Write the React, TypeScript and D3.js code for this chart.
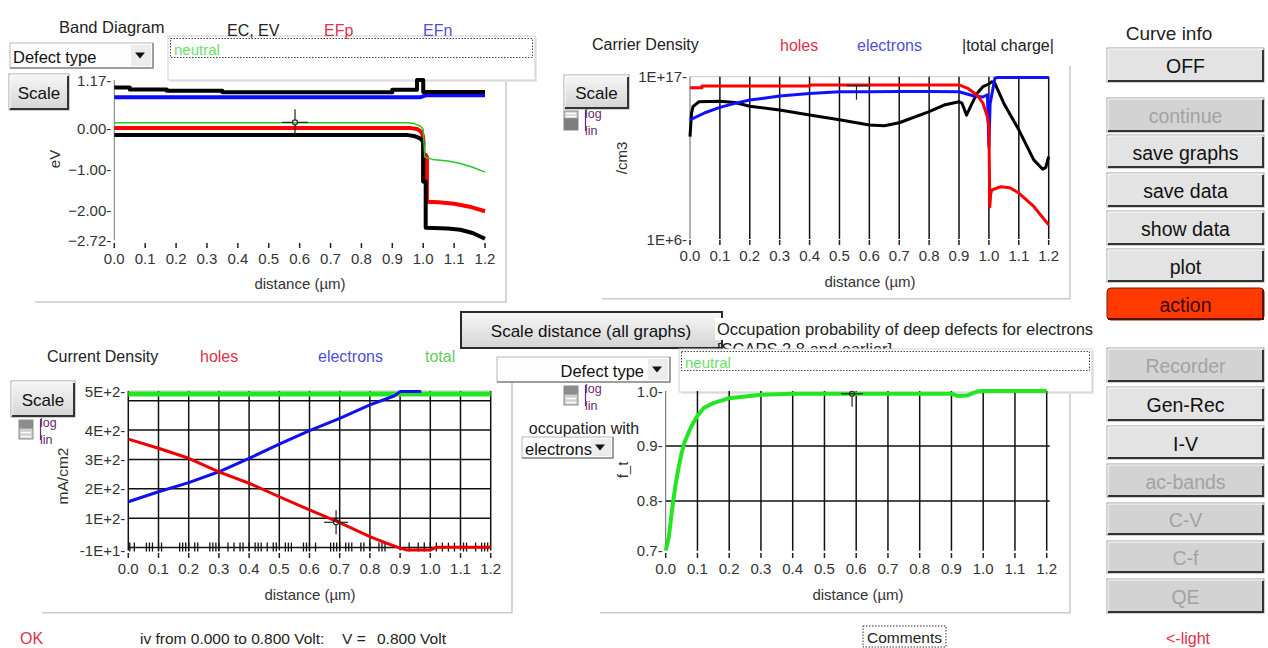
import React from 'react';
import * as d3 from 'd3';

type Pt = [number, number];

const FONT = 'Liberation Sans, Arial, sans-serif';

const distTicks = [0, 0.1, 0.2, 0.3, 0.4, 0.5, 0.6, 0.7, 0.8, 0.9, 1.0, 1.1, 1.2];

// band diagram (eV)
const bandTicks = [1.17, 0, -1, -2, -2.72];
const ecBand: Pt[] = [[0, 0.99], [0.05, 0.99], [0.05, 0.94], [0.17, 0.94], [0.17, 0.91], [0.35, 0.91], [0.35, 0.87], [0.9, 0.87], [0.9, 0.93], [0.98, 0.93], [0.98, 1.17], [1.0, 1.17], [1.0, 0.88], [1.2, 0.88]];
const efnBand: Pt[] = [[0, 0.75], [0.99, 0.75], [1.01, 0.8], [1.2, 0.8]];
const neutralBand: Pt[] = [[0, 0.13], [0.95, 0.13], [0.97, 0.11], [0.99, 0.05], [1.0, -0.03], [1.005, -0.7], [1.03, -0.76], [1.08, -0.8], [1.12, -0.86], [1.16, -0.95], [1.2, -1.07]];
const efpBand: Pt[] = [[0, 0.0], [0.96, 0.0], [0.98, -0.02], [0.995, -0.1], [1.0, -0.22], [1.0, -1.3], [1.008, -1.3], [1.008, -0.65], [1.012, -0.7], [1.012, -1.79], [1.05, -1.8], [1.1, -1.84], [1.15, -1.91], [1.2, -2.02]];
const evBand: Pt[] = [[0, -0.17], [0.95, -0.17], [0.97, -0.19], [0.99, -0.25], [1.0, -0.33], [1.0, -1.3], [1.008, -1.3], [1.008, -2.42], [1.08, -2.44], [1.12, -2.47], [1.16, -2.55], [1.2, -2.69]];

// carrier density (/cm3)
const densityTicks: [number, string][] = [[1e17, '1E+17'], [1e6, '1E+6']];
const holesDensity: Pt[] = [[0, 1.8e16], [0.04, 1.8e16], [0.04, 2.3e16], [0.4, 2.3e16], [0.4, 2.75e16], [0.9, 2.75e16], [0.93, 1.6e16], [0.96, 5.8e15], [0.98, 1.6e15], [0.995, 1.9e14], [1.0, 4e13], [1.003, 1.5e8], [1.006, 1.2e9], [1.01, 2.1e9], [1.04, 3.5e9], [1.07, 3.0e9], [1.1, 1.3e9], [1.15, 1.6e8], [1.2, 9e6]];
const electronsDensity: Pt[] = [[0, 1.2e14], [0.05, 3.6e14], [0.1, 8.3e14], [0.15, 1.55e15], [0.2, 2.6e15], [0.3, 4.9e15], [0.4, 7.4e15], [0.5, 9.5e15], [0.6, 9.5e15], [0.7, 9.8e15], [0.8, 9.8e15], [0.9, 9.5e15], [0.95, 4.9e15], [0.98, 4.2e15], [0.995, 6e15], [1.0, 1.8e12], [1.004, 1.5e15], [1.02, 7.8e16], [1.03, 9e16], [1.2, 9e16]];
const chargeDensity: Pt[] = [[0, 8.7e12], [0.005, 3.3e14], [0.01, 9.3e14], [0.03, 2.0e15], [0.1, 2.2e15], [0.15, 1.8e15], [0.2, 1.0e15], [0.3, 5.5e14], [0.4, 2.5e14], [0.5, 1.2e14], [0.6, 5.4e13], [0.65, 4.8e13], [0.7, 7.6e13], [0.8, 4.3e14], [0.85, 1.2e15], [0.9, 2.0e15], [0.91, 1.6e15], [0.925, 2.5e14], [0.94, 1.1e15], [0.96, 7.4e15], [0.98, 2.1e16], [1.0, 3.2e16], [1.01, 4.6e16], [1.02, 3.5e16], [1.05, 1.55e15], [1.1, 2.5e13], [1.15, 2.3e11], [1.18, 5.4e10], [1.19, 7e10], [1.2, 3.8e11]];

// current density (mA/cm2)
const currentTicks: [number, string][] = [[533, '5E+2'], [400, '4E+2'], [300, '3E+2'], [200, '2E+2'], [100, '1E+2'], [-10, '-1E+1']];
const currentGrid = [0, 100, 200, 300, 400, 500];
const holesCurrent: Pt[] = [[0, 369], [0.1, 338], [0.2, 304], [0.3, 258], [0.4, 219], [0.5, 173], [0.6, 128], [0.7, 85], [0.8, 37], [0.85, 17], [0.9, -2], [0.92, -8], [1.0, -8], [1.02, 1], [1.2, 1]];
const electronsCurrent: Pt[] = [[0, 156], [0.1, 190], [0.2, 221], [0.3, 258], [0.4, 304], [0.5, 352], [0.6, 398], [0.7, 440], [0.8, 486], [0.88, 516], [0.9, 531], [0.97, 531]];
const totalCurrent: Pt[] = [[0, 523], [1.2, 523]];
const meshPoints = [0.005, 0.02, 0.06, 0.07, 0.08, 0.1, 0.11, 0.17, 0.18, 0.19, 0.2, 0.22, 0.23, 0.27, 0.28, 0.29, 0.3, 0.33, 0.35, 0.37, 0.38, 0.4, 0.42, 0.43, 0.44, 0.46, 0.48, 0.49, 0.52, 0.53, 0.54, 0.58, 0.59, 0.6, 0.62, 0.67, 0.68, 0.69, 0.7, 0.72, 0.73, 0.74, 0.77, 0.78, 0.8, 0.83, 0.84, 0.85, 0.93, 0.96, 0.98, 1.0, 1.02, 1.04, 1.06, 1.08, 1.11, 1.12, 1.15, 1.17, 1.18, 1.19];

// occupation probability f_t
const occTicks: [number, string][] = [[1.0, '1.0'], [0.9, '0.9'], [0.8, '0.8'], [0.7096, '0.7']];
const occGrid = [0.8, 0.9];
const occupation: Pt[] = [[0, 0.71], [0.01, 0.735], [0.02, 0.784], [0.03, 0.826], [0.04, 0.859], [0.05, 0.887], [0.06, 0.908], [0.08, 0.935], [0.1, 0.955], [0.12, 0.969], [0.15, 0.978], [0.2, 0.987], [0.25, 0.99], [0.3, 0.993], [0.4, 0.995], [0.9, 0.995], [0.92, 0.991], [0.95, 0.992], [0.98, 0.999], [1.0, 1.0], [1.2, 1.0]];

const RED_TXT = '#e0304c';
const BLUE_TXT = '#5050d6';
const GREEN_TXT = '#5fcc5f';
const TICK_TXT = '#333';

function Curve({ pts, x, y, color, width }: { pts: Pt[]; x: any; y: any; color: string; width: number }) {
  const line = d3.line<Pt>().x(d => x(d[0])).y(d => y(d[1]));
  return <path d={line(pts) || ''} fill="none" stroke={color} strokeWidth={width} strokeLinejoin="round" />;
}

function XAxis({ x, tickY, labelY, grid }: { x: any; tickY: number; labelY: number; grid?: [number, number] }) {
  return (
    <g>
      {grid && distTicks.slice(1).map(t => (
        <line key={'g' + t} x1={x(t)} x2={x(t)} y1={grid[0]} y2={grid[1]} stroke="#111" strokeWidth={1.5} />
      ))}
      {distTicks.map(t => (
        <g key={t}>
          <line x1={x(t)} x2={x(t)} y1={tickY} y2={tickY + 5} stroke="#222" strokeWidth={1.5} />
          <text x={x(t)} y={labelY} textAnchor="middle" dominantBaseline="central" fontSize={15} fill={TICK_TXT}>{t.toFixed(1)}</text>
        </g>
      ))}
    </g>
  );
}

function YLabels({ ticks, y, ax }: { ticks: [number, string][]; y: any; ax: number }) {
  return (
    <g>
      {ticks.map(([v, s]) => (
        <text key={s} x={ax - 3} y={y(v)} textAnchor="end" dominantBaseline="central" fontSize={15} fill={TICK_TXT}>{s + '-'}</text>
      ))}
    </g>
  );
}

function Crosshair({ cx, cy, r = 13 }: { cx: number; cy: number; r?: number }) {
  return (
    <g stroke="#222" strokeWidth={1.2} fill="none">
      <circle cx={cx} cy={cy} r={2.5} />
      <line x1={cx - r} x2={cx - 2.5} y1={cy} y2={cy} />
      <line x1={cx + 2.5} x2={cx + r} y1={cy} y2={cy} />
      <line x1={cx} x2={cx} y1={cy - r} y2={cy - 2.5} />
      <line x1={cx} x2={cx} y1={cy + 2.5} y2={cy + r} />
    </g>
  );
}

function Frame({ x0, x1, y0, y1 }: { x0: number; x1: number; y0: number; y1: number }) {
  return <path d={`M${x0},${y1}H${x1}V${y0}`} fill="none" stroke="#c9c9c9" strokeWidth={1.5} />;
}

function Button({ x, y, w, h, label, size = 19, disabled = false, action = false, grad = false }:
  { x: number; y: number; w: number; h: number; label: string; size?: number; disabled?: boolean; action?: boolean; grad?: boolean }) {
  const face = action ? '#ff3a00' : disabled ? '#d3d3d3' : grad ? 'url(#btnGrad)' : '#e3e3e3';
  const color = action ? '#3a0800' : disabled ? '#a2a2a2' : '#111';
  return (
    <g>
      <rect x={x} y={y} width={w} height={h} rx={action ? 4 : 0} fill={face} stroke={action ? '#7a1a00' : '#a0a0a0'} strokeWidth={1} />
      {!action && <path d={`M${x + 1},${y + h - 1}V${y + 1}H${x + w - 1}`} fill="none" stroke="#fbfbfb" strokeWidth={1} />}
      <path d={`M${x + 1},${y + h - 1}H${x + w - 1}V${y + 2}`} fill="none" stroke={action ? '#5a1000' : '#333'} strokeWidth={2} />
      <text x={x + w / 2} y={y + h / 2 + 1} textAnchor="middle" dominantBaseline="central" fontSize={size} fill={color}>{label}</text>
    </g>
  );
}

function Dropdown({ x, y, w, h, label, alignEnd = false }: { x: number; y: number; w: number; h: number; label: string; alignEnd?: boolean }) {
  return (
    <g>
      <rect x={x} y={y} width={w} height={h} fill="#fdfdfd" stroke="#b8b8b8" />
      <path d={`M${x},${y + h}H${x + w}V${y}`} fill="none" stroke="#8a8a8a" strokeWidth={1.5} />
      <rect x={x + w - 22} y={y + 2} width={20} height={h - 4} fill="#ececec" />
      <path d={`M${x + w - 18},${y + h / 2 - 3}h10l-5,6z`} fill="#111" />
      <text x={alignEnd ? x + w - 26 : x + 3} y={y + h / 2 + 1} textAnchor={alignEnd ? 'end' : 'start'} dominantBaseline="central" fontSize={16.5} fill="#111">{label}</text>
    </g>
  );
}

function LogLin({ x, y, h, darkTop }: { x: number; y: number; h: number; darkTop: boolean }) {
  const split = darkTop ? h * 0.45 : h * 0.38;
  return (
    <g>
      <rect x={x} y={y} width={14} height={h} fill="#cfcfcf" stroke="#8a8a8a" />
      {darkTop ? (
        <g>
          <rect x={x} y={y} width={14} height={split} fill="#8c8c8c" />
          <line x1={x + 2} x2={x + 12} y1={y + split + 4} y2={y + split + 4} stroke="#fff" strokeWidth={1.5} />
          <line x1={x + 2} x2={x + 12} y1={y + split + 8} y2={y + split + 8} stroke="#fff" strokeWidth={1.5} />
        </g>
      ) : (
        <g>
          <rect x={x} y={y + split} width={14} height={h - split} fill="#7e7e7e" />
          <line x1={x + 2} x2={x + 12} y1={y + 2.5} y2={y + 2.5} stroke="#fff" strokeWidth={1.5} />
          <line x1={x + 2} x2={x + 12} y1={y + 5.5} y2={y + 5.5} stroke="#fff" strokeWidth={1.5} />
        </g>
      )}
      <line x1={x + 21.5} x2={x + 21.5} y1={y - 1} y2={y + h + 1} stroke="#6b2a6b" strokeWidth={1.2} />
      <text x={x + 21} y={y + 3} dominantBaseline="central" fontSize={12.5} fill="#6b2a6b">log</text>
      <text x={x + 21} y={y + h + 1} dominantBaseline="central" fontSize={12.5} fill="#6b2a6b">lin</text>
    </g>
  );
}

function LegendBox({ x, y, w, h }: { x: number; y: number; w: number; h: number }) {
  return (
    <g>
      <rect x={x + 2} y={y + 2} width={w} height={h} fill="#e6e6e6" />
      <rect x={x} y={y} width={w} height={h} fill="#fff" stroke="#d0d0d0" />
      <rect x={x + 2.5} y={y + 2.5} width={w - 5} height={19} fill="none" stroke="#444" strokeDasharray="1.5,1.5" />
      <text x={x + 6} y={y + 13} dominantBaseline="central" fontSize={15} fill="#6ae06a">neutral</text>
    </g>
  );
}

function BandPanel() {
  const x = d3.scaleLinear().domain([0, 1.2]).range([114.3, 485]);
  const y = d3.scaleLinear().domain([-2.72, 1.17]).range([240, 80]);
  return (
    <g>
      <Frame x0={35} x1={506} y0={70} y1={302} />
      <text x={59} y={27} dominantBaseline="central" fontSize={16.5} fill="#222">Band Diagram</text>
      <Dropdown x={10} y={43} w={143} h={25} label="Defect type" />
      <LegendBox x={168} y={36} w={367} h={44} />
      <text x={227} y={30} dominantBaseline="central" fontSize={16} fill="#222">EC, EV</text>
      <text x={324} y={30} dominantBaseline="central" fontSize={16} fill={RED_TXT}>EFp</text>
      <text x={423} y={30} dominantBaseline="central" fontSize={16} fill={BLUE_TXT}>EFn</text>
      <Button x={9} y={74} w={60} h={36} label="Scale" size={17} grad />
      <line x1={x(0)} x2={x(0)} y1={y(1.17)} y2={y(-2.72)} stroke="#777" />
      <YLabels ticks={bandTicks.map(v => [v, d3.format('.2f')(v)] as [number, string])} y={y} ax={x(0)} />
      <XAxis x={x} tickY={243} labelY={258} />
      <text x={300} y={283} textAnchor="middle" dominantBaseline="central" fontSize={15} fill={TICK_TXT}>distance (µm)</text>
      <text transform="translate(54,159) rotate(-90)" textAnchor="middle" dominantBaseline="central" fontSize={15} fill={TICK_TXT}>eV</text>
      <Curve pts={efnBand} x={x} y={y} color="#0a0aff" width={4} />
      <Curve pts={ecBand} x={x} y={y} color="#000" width={4} />
      <Curve pts={efpBand} x={x} y={y} color="#ff0000" width={4} />
      <Curve pts={evBand} x={x} y={y} color="#000" width={4} />
      <Curve pts={neutralBand} x={x} y={y} color="#22cc22" width={1.5} />
      <Crosshair cx={x(0.585)} cy={y(0.14)} />
    </g>
  );
}

function CarrierPanel() {
  const x = d3.scaleLinear().domain([0, 1.2]).range([690, 1048.7]);
  const y = d3.scaleLog().domain([1e6, 1e17]).range([239, 76.7]);
  return (
    <g>
      <Frame x0={602} x1={1070} y0={66} y1={298.7} />
      <text x={592} y={44} dominantBaseline="central" fontSize={16} fill="#222">Carrier Density</text>
      <text x={780} y={45} dominantBaseline="central" fontSize={16} fill={RED_TXT}>holes</text>
      <text x={857} y={45} dominantBaseline="central" fontSize={16} fill={BLUE_TXT}>electrons</text>
      <text x={962} y={45} dominantBaseline="central" fontSize={16} fill="#222">|total charge|</text>
      <Button x={564} y={75} w={65} h={34} label="Scale" size={17} grad />
      <LogLin x={564} y={111} h={19} darkTop={false} />
      <line x1={x(0)} x2={x(1.2)} y1={y(1e17)} y2={y(1e17)} stroke="#c8c8c8" />
      <line x1={x(0)} x2={x(0)} y1={y(1e17)} y2={y(1e6)} stroke="#666" />
      <YLabels ticks={densityTicks} y={y} ax={x(0)} />
      <XAxis x={x} tickY={240} labelY={255} grid={[y(1e17), y(1e6)]} />
      <text x={870} y={281} textAnchor="middle" dominantBaseline="central" fontSize={15} fill={TICK_TXT}>distance (µm)</text>
      <text transform="translate(621,158) rotate(-90)" textAnchor="middle" dominantBaseline="central" fontSize={15} fill={TICK_TXT}>/cm3</text>
      <Curve pts={chargeDensity} x={x} y={y} color="#000" width={3} />
      <Curve pts={electronsDensity} x={x} y={y} color="#1010ff" width={3} />
      <Curve pts={holesDensity} x={x} y={y} color="#ff0000" width={3} />
      <g stroke="#222" strokeWidth={1.2} fill="none">
        <line x1={x(0.557) - 10} x2={x(0.557) + 12} y1={y(2.45e16)} y2={y(2.45e16)} />
        <line x1={x(0.557)} x2={x(0.557)} y1={y(2.45e16)} y2={y(2.45e16) + 14} />
      </g>
    </g>
  );
}

function CurrentPanel() {
  const x = d3.scaleLinear().domain([0, 1.2]).range([128.3, 490.7]);
  const y = d3.scaleLinear().domain([-10, 533]).range([550.5, 391]);
  return (
    <g>
      <Frame x0={42} x1={512} y0={382} y1={612.7} />
      <text x={47} y={356} dominantBaseline="central" fontSize={16} fill="#222">Current Density</text>
      <text x={200} y={356} dominantBaseline="central" fontSize={16} fill={RED_TXT}>holes</text>
      <text x={318} y={356} dominantBaseline="central" fontSize={16} fill={BLUE_TXT}>electrons</text>
      <text x={425} y={356} dominantBaseline="central" fontSize={16} fill={GREEN_TXT}>total</text>
      <Button x={11} y={381} w={64} h={36} label="Scale" size={17} grad />
      <LogLin x={19} y={420} h={19} darkTop={true} />
      <line x1={x(0)} x2={x(1.2)} y1={y(533)} y2={y(533)} stroke="#bbb" />
      {currentGrid.map(v => (
        <line key={v} x1={x(0)} x2={x(1.2)} y1={y(v)} y2={y(v)} stroke="#111" strokeWidth={1.5} />
      ))}
      <line x1={x(0)} x2={x(0)} y1={y(533)} y2={y(-10)} stroke="#111" strokeWidth={1.5} />
      <YLabels ticks={currentTicks} y={y} ax={x(0)} />
      <XAxis x={x} tickY={553} labelY={568} grid={[y(533), y(-10)]} />
      {meshPoints.map(m => (
        <line key={m} x1={x(m)} x2={x(m)} y1={y(0) - 5} y2={y(0) + 4} stroke="#111" strokeWidth={1.3} />
      ))}
      <text x={310} y={594} textAnchor="middle" dominantBaseline="central" fontSize={15} fill={TICK_TXT}>distance (µm)</text>
      <text transform="translate(62,476) rotate(-90)" textAnchor="middle" dominantBaseline="central" fontSize={15.5} fill={TICK_TXT}>mA/cm2</text>
      <Curve pts={totalCurrent} x={x} y={y} color="#22e622" width={5} />
      <Curve pts={electronsCurrent} x={x} y={y} color="#1010ee" width={3} />
      <Curve pts={holesCurrent} x={x} y={y} color="#ee0000" width={3} />
      <Crosshair cx={x(0.688)} cy={y(86)} r={12} />
    </g>
  );
}

function OccupationPanel() {
  const x = d3.scaleLinear().domain([0, 1.2]).range([665.7, 1046.7]);
  const y = d3.scaleLinear().domain([0.7096, 1.0]).range([550.7, 391]);
  return (
    <g>
      <Frame x0={600} x1={1070} y0={392} y1={612.7} />
      <rect x={715} y={318} width={385} height={22} fill="#fff" />
      <text x={717} y={329} dominantBaseline="central" fontSize={16.5} fill="#222">Occupation probability of deep defects for electrons</text>
      <text x={717} y={349} dominantBaseline="central" fontSize={16.5} fill="#222">[SCAPS 2.8 and earlier]</text>
      <LegendBox x={679} y={349} w={413} h={43} />
      {occGrid.map(v => (
        <line key={v} x1={x(0)} x2={x(1.2) + 3} y1={y(v)} y2={y(v)} stroke="#111" strokeWidth={1.5} />
      ))}
      <line x1={x(0)} x2={x(0)} y1={y(1)} y2={y(0.7096)} stroke="#666" />
      <YLabels ticks={occTicks} y={y} ax={x(0)} />
      <XAxis x={x} tickY={553} labelY={568} grid={[y(1), y(0.7096)]} />
      <text x={858} y={594} textAnchor="middle" dominantBaseline="central" fontSize={15} fill={TICK_TXT}>distance (µm)</text>
      <text transform="translate(622,470) rotate(-90)" textAnchor="middle" dominantBaseline="central" fontSize={15} fill={TICK_TXT}>f_t</text>
      <Curve pts={occupation} x={x} y={y} color="#22e622" width={4} />
      <g stroke="#222" strokeWidth={1.2} fill="none">
        <circle cx={x(0.587)} cy={y(0.995)} r={2.5} />
        <line x1={x(0.587) - 11} x2={x(0.587) + 11} y1={y(0.995)} y2={y(0.995)} />
        <line x1={x(0.587)} x2={x(0.587)} y1={y(0.995) + 3} y2={y(0.995) + 13} />
      </g>
    </g>
  );
}

function MiddleControls() {
  return (
    <g>
      <rect x={461} y={312} width={261} height={36} fill="url(#btnGrad)" stroke="#2a2a2a" strokeWidth={2} />
      <text x={591} y={331} textAnchor="middle" dominantBaseline="central" fontSize={17} fill="#111">Scale distance (all graphs)</text>
      <Dropdown x={497} y={357} w={173} h={25} label="Defect type" alignEnd />
      <LogLin x={564} y={386} h={19} darkTop={true} />
      <text x={584} y={428} textAnchor="middle" dominantBaseline="central" fontSize={16} fill="#222">occupation with</text>
      <Dropdown x={522} y={437} w={91} h={21} label="electrons" />
    </g>
  );
}

const rightButtons: { label: string; y: number; h: number; disabled?: boolean; action?: boolean }[] = [
  { label: 'OFF', y: 48, h: 34 },
  { label: 'continue', y: 98, h: 34, disabled: true },
  { label: 'save graphs', y: 135, h: 33 },
  { label: 'save data', y: 173, h: 34 },
  { label: 'show data', y: 211, h: 34 },
  { label: 'plot', y: 249, h: 33 },
  { label: 'action', y: 288, h: 32, action: true },
  { label: 'Recorder', y: 348, h: 34, disabled: true },
  { label: 'Gen-Rec', y: 387, h: 34 },
  { label: 'I-V', y: 426, h: 33 },
  { label: 'ac-bands', y: 464, h: 33, disabled: true },
  { label: 'C-V', y: 503, h: 32, disabled: true },
  { label: 'C-f', y: 541, h: 32, disabled: true },
  { label: 'QE', y: 579, h: 34, disabled: true },
];

function RightColumn() {
  return (
    <g>
      <text x={1169} y={33} textAnchor="middle" dominantBaseline="central" fontSize={19} fill="#222">Curve info</text>
      {rightButtons.map(b => (
        <Button key={b.label} x={1107} y={b.y} w={157} h={b.h} label={b.label} size={19.5} disabled={b.disabled} action={b.action} />
      ))}
      <text x={1188} y={638} textAnchor="middle" dominantBaseline="central" fontSize={16} fill={RED_TXT}>{'<-light'}</text>
    </g>
  );
}

function StatusBar() {
  return (
    <g>
      <text x={20} y={638} dominantBaseline="central" fontSize={16} fill={RED_TXT}>OK</text>
      <text x={140} y={638} dominantBaseline="central" fontSize={15.5} fill="#222">iv from 0.000 to 0.800 Volt:</text>
      <text x={342} y={638} dominantBaseline="central" fontSize={15.5} fill="#222">V =</text>
      <text x={377} y={638} dominantBaseline="central" fontSize={15.5} fill="#222">0.800 Volt</text>
      <rect x={863} y={626} width={83} height={21} fill="#fff" stroke="#333" strokeDasharray="1.5,1.5" />
      <text x={904.5} y={637} textAnchor="middle" dominantBaseline="central" fontSize={15.5} fill="#222">Comments</text>
    </g>
  );
}

export default function App() {
  return (
    <svg width={1268} height={648} style={{ position: 'absolute', left: 0, top: 0 }} fontFamily={FONT}>
      <defs>
        <linearGradient id="btnGrad" x1="0" y1="0" x2="0" y2="1">
          <stop offset="0" stopColor="#f7f7f7" />
          <stop offset="1" stopColor="#d4d4d4" />
        </linearGradient>
      </defs>
      <rect width={1268} height={648} fill="#fff" />
      <BandPanel />
      <CarrierPanel />
      <CurrentPanel />
      <MiddleControls />
      <OccupationPanel />
      <RightColumn />
      <StatusBar />
    </svg>
  );
}
